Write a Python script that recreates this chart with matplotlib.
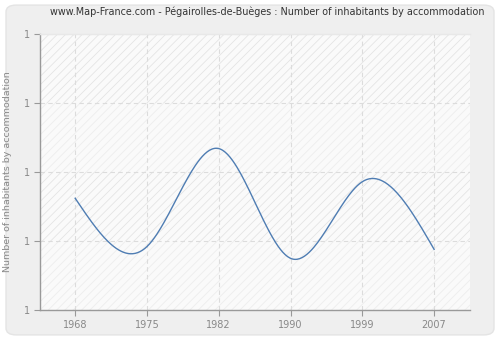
import numpy as np
import matplotlib
matplotlib.use("Agg")
import matplotlib.pyplot as plt
from matplotlib.patches import FancyBboxPatch
from matplotlib.ticker import FuncFormatter

# --- data ---
years = ["1968", "1975", "1982", "1990", "1999", "2007"]
inhabitants_per_home = [1.162, 1.092, 1.234, 1.075, 1.186, 1.088]
y_ticks = [1.0, 1.1, 1.2, 1.3, 1.4]

LINE = "#4f7db3"
GRID = "#dcdcdc"
AXIS = "#999999"
TEXT = "#888888"
OUTER = "#efefef"


def natural_spline(x, y, n=300):
    """Natural cubic spline through (x, y), evaluated on n points."""
    x = np.asarray(x, float)
    y = np.asarray(y, float)
    k = len(x)
    h = np.diff(x)
    A = np.zeros((k, k))
    b = np.zeros(k)
    A[0, 0] = A[-1, -1] = 1
    for i in range(1, k - 1):
        A[i, i - 1] = h[i - 1]
        A[i, i] = 2 * (h[i - 1] + h[i])
        A[i, i + 1] = h[i]
        b[i] = 6 * ((y[i + 1] - y[i]) / h[i] - (y[i] - y[i - 1]) / h[i - 1])
    M = np.linalg.solve(A, b)
    xs = np.linspace(x[0], x[-1], n)
    idx = np.clip(np.searchsorted(x, xs) - 1, 0, k - 2)
    x0, x1 = x[idx], x[idx + 1]
    hh = x1 - x0
    t0, t1 = x1 - xs, xs - x0
    ys = (M[idx] * t0 ** 3 + M[idx + 1] * t1 ** 3) / (6 * hh) \
        + (y[idx] / hh - M[idx] * hh / 6) * t0 \
        + (y[idx + 1] / hh - M[idx + 1] * hh / 6) * t1
    return xs, ys


plt.rcParams["hatch.linewidth"] = 0.6

fig = plt.figure(figsize=(5, 3.4), dpi=100)
fig.patch.set_facecolor("white")

# rounded outer panel
panel = FancyBboxPatch((0.012, 0.015), 0.976, 0.97,
                       boxstyle="round,pad=0,rounding_size=0.02",
                       transform=fig.transFigure, facecolor=OUTER,
                       edgecolor="#e4e4e4", linewidth=1.0, zorder=0)
fig.patches.append(panel)

ax = fig.add_axes([0.08, 0.088, 0.86, 0.812])
ax.set_zorder(2)
ax.set_facecolor("#fafafa")

x = np.arange(len(years))
ax.set_xlim(-0.49, 5.5)
ax.set_ylim(y_ticks[0], y_ticks[-1])

# hatched background bands, alternating strength
for i in range(len(y_ticks) - 1):
    strong = (len(y_ticks) - 2 - i) % 2 == 0
    ax.axhspan(y_ticks[i], y_ticks[i + 1], facecolor="#fafafa",
               edgecolor="#e4e4e4" if strong else "#ededed",
               hatch="////", linewidth=0, zorder=0)

xs, ys = natural_spline(x, inhabitants_per_home)
ax.plot(xs, ys, color=LINE, linewidth=1.0, zorder=3)

ax.set_xticks(x)
ax.set_xticklabels(years)
ax.set_yticks(y_ticks)
ax.yaxis.set_major_formatter(FuncFormatter(lambda v, p: f"{v:.0f}"))
ax.grid(True, color=GRID, linestyle=(0, (4, 3)), linewidth=0.8, zorder=1)
ax.set_axisbelow(True)

ax.spines["right"].set_visible(False)
ax.spines["top"].set_color("#e8e8e8")
ax.spines["top"].set_linewidth(1.0)
for side in ("left", "bottom"):
    ax.spines[side].set_color(AXIS)
    ax.spines[side].set_linewidth(1.0)
ax.tick_params(axis="both", colors=AXIS, labelcolor=TEXT, labelsize=7,
               length=4, width=0.8)

ax.set_ylabel("Number of inhabitants by accommodation", fontsize=6.8,
              color=TEXT, labelpad=8)
fig.text(0.535, 0.965, "www.Map-France.com - Pégairolles-de-Buèges : Number of inhabitants by accommodation",
         ha="center", va="center", fontsize=6.9, color="#333333")

fig.savefig("out.png", dpi=100, facecolor=fig.get_facecolor())
